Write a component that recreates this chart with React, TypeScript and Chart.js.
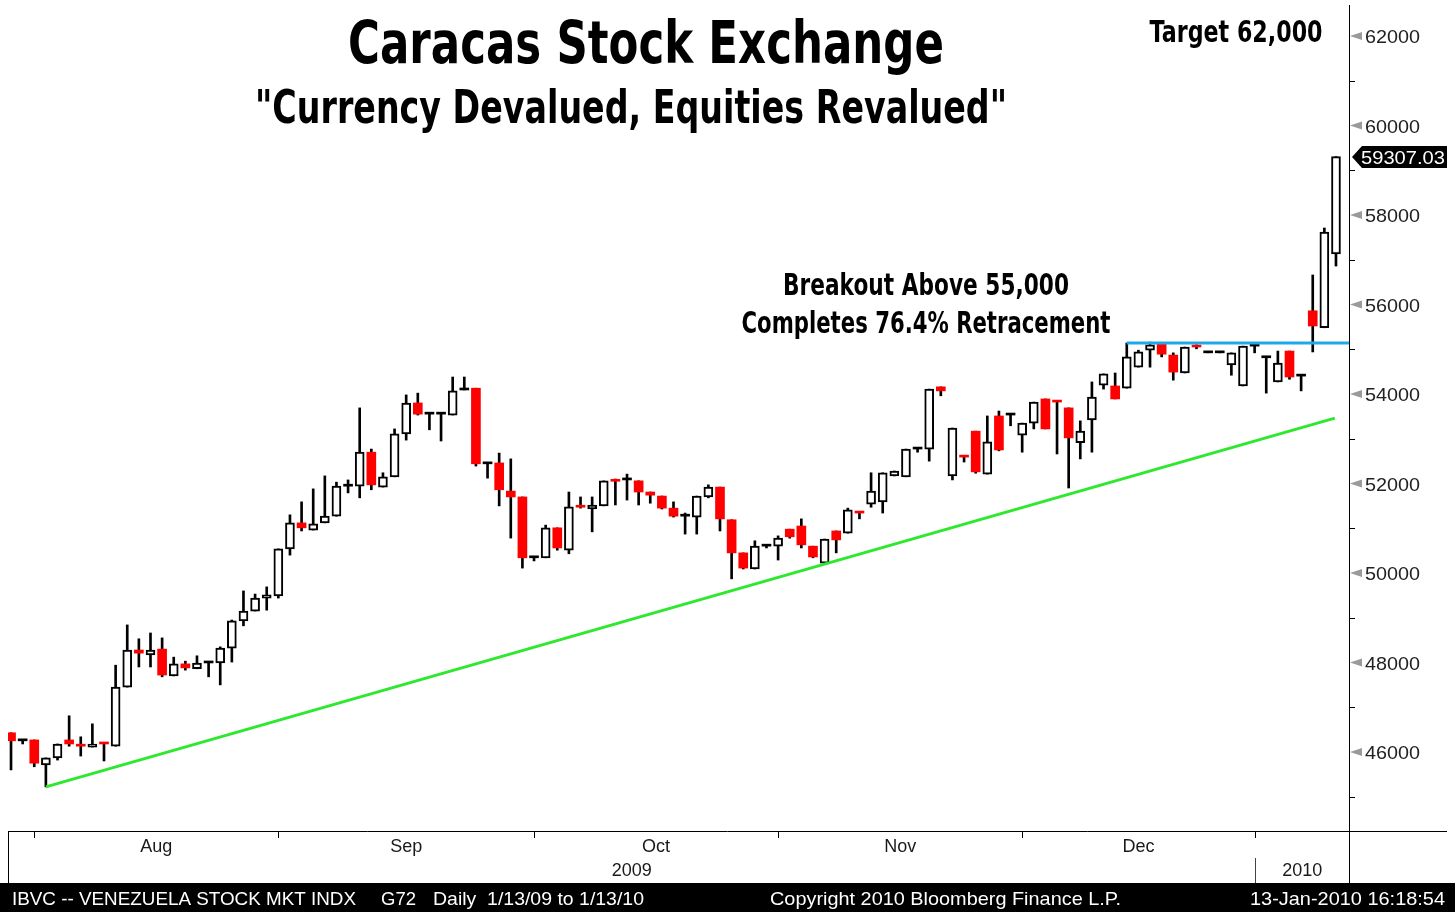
import React, { useEffect, useRef } from 'react';
import { Chart, registerables } from 'chart.js';

Chart.register(...registerables);

// ---- Data (IBVC daily OHLC, late Jul 2009 - 13 Jan 2010) ----
const opens = [
  46430, 46250, 46270, 45710, 45870, 46270, 46140, 46110, 46190, 46130,
  47450, 48280, 48170, 48300, 47700, 47970, 47860, 47990, 47990, 48320,
  48930, 49150, 49440, 49490, 50540, 51120, 50960, 51120, 51270, 51940,
  51940, 52700, 51920, 52150, 53110, 53800, 53550, 53550, 53530, 54090,
  54130, 52440, 52460, 51830, 51700, 50340, 50340, 51010, 50510, 51480,
  51430, 51500, 52060, 52080, 52060, 51810, 51720, 51450, 51270, 51250,
  51700, 51920, 51190, 50450, 50090, 50600, 50600, 50980, 51050, 50600,
  50220, 50940, 50890, 51350, 51540, 51590, 52170, 52150, 52770, 52770,
  54160, 52170, 52600, 53170, 52210, 53510, 53530, 53080, 53350, 53890,
  53830, 53690, 52910, 53420, 54200, 54180, 54130, 54600, 54980, 55140,
  54870, 54470, 55060, 54920, 54920, 54650, 54180, 55070, 54810, 54270,
  54960, 54400, 55860, 55480, 57130,
];
const highs = [
  46430, 46250, 46270, 45870, 46180, 46810, 46340, 46630, 46190, 47940,
  48840, 48530, 48660, 48550, 48120, 48030, 48150, 47990, 48350, 48950,
  49600, 49530, 49690, 50540, 51300, 51590, 51880, 52170, 52030, 52080,
  53690, 52770, 52240, 53220, 53980, 54020, 53550, 53580, 54380, 54380,
  54130, 52440, 52680, 52550, 51700, 50340, 51070, 51010, 51810, 51700,
  51700, 52060, 52100, 52210, 52060, 51810, 51720, 51590, 51340, 51720,
  51970, 51920, 51190, 50450, 50720, 50600, 50830, 50980, 51210, 50600,
  50760, 50940, 51450, 51350, 52240, 52240, 52280, 52770, 52770, 54110,
  54160, 53240, 52600, 53170, 53510, 53620, 53530, 53350, 53820, 53890,
  53830, 53690, 53400, 54270, 54450, 54470, 55140, 54980, 55160, 55140,
  54920, 55050, 55100, 54920, 54920, 54920, 55070, 55070, 54810, 54960,
  54960, 54400, 56660, 57710, 59307.03,
];
const lows = [
  45600, 46180, 45670, 45220, 45820, 46130, 45910, 46110, 45800, 46130,
  47450, 47900, 47900, 47680, 47700, 47830, 47860, 47680, 47500, 48010,
  48820, 49150, 49170, 49440, 50400, 50940, 50960, 51120, 51270, 51790,
  51680, 51860, 51920, 52150, 52970, 53530, 53200, 52950, 53530, 54090,
  52390, 52120, 51500, 50780, 50110, 50270, 50340, 50510, 50430, 51450,
  50920, 51500, 51520, 51630, 51520, 51560, 51430, 51250, 50870, 50870,
  51680, 50940, 49870, 50090, 50090, 50560, 50290, 50780, 50560, 50340,
  50220, 50450, 50890, 51210, 51470, 51340, 52170, 52150, 52700, 52500,
  53960, 52080, 52480, 52230, 52210, 52730, 53290, 52700, 53220, 53220,
  52660, 51900, 52550, 52700, 54110, 53890, 54130, 54600, 54600, 54830,
  54310, 54470, 55010, 54920, 54920, 54420, 54180, 54920, 54020, 54270,
  54330, 54070, 54940, 55480, 56860,
];
const closes = [
  46250, 46250, 45750, 45870, 46180, 46180, 46130, 46180, 46180, 47450,
  48280, 48210, 48280, 47720, 47970, 47880, 47990, 47990, 48320, 48930,
  49150, 49440, 49510, 50540, 51120, 51010, 51100, 51270, 51940, 51940,
  52700, 51970, 52150, 53110, 53800, 53550, 53550, 53550, 54070, 54090,
  52440, 52440, 51860, 51700, 50340, 50340, 51010, 50560, 51480, 51470,
  51520, 52060, 52050, 52080, 51810, 51740, 51450, 51270, 51270, 51720,
  51920, 51210, 50450, 50110, 50600, 50600, 50780, 50810, 50630, 50360,
  50760, 50740, 51410, 51340, 51830, 52240, 52280, 52770, 52770, 54110,
  54070, 53240, 52590, 52260, 52930, 52750, 53530, 53350, 53820, 53220,
  53820, 53020, 53170, 53930, 54450, 53890, 54830, 54940, 55100, 54890,
  54490, 55050, 55050, 54920, 54920, 54920, 55070, 55070, 54810, 54690,
  54380, 54400, 55520, 57620, 59307.03,
];

const monthNames = ['Aug', 'Sep', 'Oct', 'Nov', 'Dec'];
const monthStartBars = [2, 23, 45, 66, 87, 107]; // first bar of Aug, Sep, Oct, Nov, Dec, Jan
const yearNames = ['2009', '2010'];

const trendX = [3, 113.9];
const trendY = [45220, 53460];
const breakoutX = [96, 115.2];
const breakoutY = [55140, 55140];
const lastPrice = 59307.03;

const xMin = -0.26;
const xMax = 115.12;
const yMin = 44235;
const yMax = 62693;
const yMinorStep = 1000;
const yLabelStep = 2000;

const TITLE = 'Caracas Stock Exchange';
const SUBTITLE = '"Currency Devalued, Equities Revalued"';
const TARGET_NOTE = 'Target 62,000';
const NOTE_1 = 'Breakout Above 55,000';
const NOTE_2 = 'Completes 76.4% Retracement';
const FOOT_1 = 'IBVC -- VENEZUELA STOCK MKT INDX';
const FOOT_2 = 'G72';
const FOOT_3 = 'Daily  1/13/09 to 1/13/10';
const FOOT_4 = 'Copyright 2010 Bloomberg Finance L.P.';
const FOOT_5 = '13-Jan-2010 16:18:54';

function fitText(
  ctx: CanvasRenderingContext2D,
  text: string,
  x: number,
  baseline: number,
  width: number,
  font: string,
  color: string,
  align: 'left' | 'center' = 'center'
) {
  ctx.save();
  ctx.font = font;
  const w = ctx.measureText(text).width;
  const s = width / w;
  ctx.translate(x, baseline);
  ctx.scale(s, 1);
  ctx.textAlign = align;
  ctx.textBaseline = 'alphabetic';
  ctx.fillStyle = color;
  ctx.fillText(text, 0, 0);
  ctx.restore();
}

const decorPlugin = {
  id: 'decor',
  afterDraw(chart: any) {
    const ctx: CanvasRenderingContext2D = chart.ctx;
    const xs = chart.scales.x;
    const ys = chart.scales.y;
    const a = chart.chartArea;
    const W = chart.width;
    const H = chart.height;
    const panelBottom = a.bottom + 52;
    const px = (v: number) => xs.getPixelForValue(v);

    ctx.save();
    ctx.strokeStyle = '#000';
    ctx.lineWidth = 1;
    const line = (x1: number, y1: number, x2: number, y2: number) => {
      ctx.beginPath();
      ctx.moveTo(x1, y1);
      ctx.lineTo(x2, y2);
      ctx.stroke();
    };
    // right axis line and lower panel frame
    line(a.right + 0.5, a.top, a.right + 0.5, panelBottom);
    line(a.left, a.bottom + 0.5, W - 8, a.bottom + 0.5);
    line(a.left + 0.5, a.bottom, a.left + 0.5, panelBottom);

    // y axis ticks, markers and labels
    const labFont = '19px "Liberation Sans", Arial, sans-serif';
    for (let v = Math.ceil(ys.min / yMinorStep) * yMinorStep; v <= ys.max; v += yMinorStep) {
      const y = ys.getPixelForValue(v);
      if (v % yLabelStep === 0) {
        ctx.fillStyle = '#9a9a9a';
        ctx.beginPath();
        ctx.moveTo(a.right + 1, y);
        ctx.lineTo(a.right + 13, y - 4);
        ctx.lineTo(a.right + 13, y + 4);
        ctx.closePath();
        ctx.fill();
        fitText(ctx, String(v), a.right + 16, y + 7, 55, labFont, '#222', 'left');
      } else {
        const yy = Math.round(y) + 0.5;
        line(a.right, yy, a.right + 6, yy);
      }
    }

    // month ticks and labels
    ctx.strokeStyle = '#000';
    monthStartBars.forEach((b) => {
      const x = Math.round(px(b)) + 0.5;
      line(x, a.bottom, x, a.bottom + 7);
    });
    ctx.fillStyle = '#1a1a1a';
    ctx.font = '18px "Liberation Sans", Arial, sans-serif';
    ctx.textAlign = 'center';
    ctx.textBaseline = 'middle';
    monthNames.forEach((m, i) => {
      const cx = (px(monthStartBars[i]) + px(monthStartBars[i + 1])) / 2;
      ctx.fillText(m, cx, a.bottom + 16);
    });
    const janX = Math.round(px(monthStartBars[monthStartBars.length - 1])) + 0.5;
    ctx.fillText(yearNames[0], (a.left + janX) / 2, a.bottom + 40);
    ctx.fillText(yearNames[1], (janX + a.right) / 2, a.bottom + 40);
    ctx.strokeStyle = '#444';
    line(janX, a.bottom + 27, janX, panelBottom);

    // footer
    ctx.fillStyle = '#000';
    ctx.fillRect(0, panelBottom, W, H - panelBottom);
    const ff = '19px "Liberation Sans", Arial, sans-serif';
    const fb = panelBottom + 22;
    fitText(ctx, FOOT_1, 12, fb, 344, ff, '#fff', 'left');
    fitText(ctx, FOOT_2, 381, fb, 35, ff, '#fff', 'left');
    fitText(ctx, FOOT_3, 433, fb, 211, ff, '#fff', 'left');
    fitText(ctx, FOOT_4, 770, fb, 351, ff, '#fff', 'left');
    fitText(ctx, FOOT_5, 1250, fb, 195, ff, '#fff', 'left');

    // last price tag
    const ty = Math.round(ys.getPixelForValue(lastPrice));
    ctx.fillStyle = '#000';
    ctx.beginPath();
    ctx.moveTo(a.right + 3, ty);
    ctx.lineTo(a.right + 13, ty - 11);
    ctx.lineTo(W - 8, ty - 11);
    ctx.lineTo(W - 8, ty + 11);
    ctx.lineTo(a.right + 13, ty + 11);
    ctx.closePath();
    ctx.fill();
    fitText(ctx, lastPrice.toFixed(2), a.right + 12, ty + 7, 84, labFont, '#fff', 'left');

    // titles and notes
    const bold = (s: number) => `bold ${s}px "DejaVu Sans", sans-serif`;
    fitText(ctx, TITLE, 646, 63, 596, bold(59), '#000');
    fitText(ctx, SUBTITLE, 631, 123, 752, bold(46), '#000');
    fitText(ctx, TARGET_NOTE, 1236, 42, 173, bold(30), '#000');
    fitText(ctx, NOTE_1, 926, 295, 286, bold(31), '#000');
    fitText(ctx, NOTE_2, 926, 333, 369, bold(31), '#000');
    ctx.restore();
  },
};

export default function App() {
  const canvasRef = useRef<HTMLCanvasElement | null>(null);

  useEffect(() => {
    const canvas = canvasRef.current;
    if (!canvas) return;

    const kind = (i: number) =>
      closes[i] > opens[i] ? 'up' : closes[i] < opens[i] ? 'down' : 'flat';

    const chart = new Chart(canvas, {
      type: 'bar',
      data: {
        datasets: [
          {
            type: 'line',
            data: trendX.map((x, i) => ({ x, y: trendY[i] })),
            borderColor: '#2ee82e',
            borderWidth: 3,
            pointRadius: 0,
            fill: false,
          } as any,
          {
            type: 'line',
            data: breakoutX.map((x, i) => ({ x, y: breakoutY[i] })),
            borderColor: '#1ea9ec',
            borderWidth: 3,
            pointRadius: 0,
            fill: false,
          } as any,
          {
            type: 'bar',
            data: opens.map((o, i) => ({ x: i, y: [o, closes[i]] })),
            backgroundColor: (c: any) => {
              const k = kind(c.dataIndex);
              return k === 'up' ? '#ffffff' : k === 'down' ? '#ff0000' : '#000000';
            },
            borderColor: (c: any) => {
              const k = kind(c.dataIndex);
              return k === 'down' ? '#ff0000' : '#000000';
            },
            borderWidth: (c: any) => (kind(c.dataIndex) === 'up' ? 2 : 0),
            borderSkipped: false,
            barThickness: 9,
            minBarLength: 2,
            grouped: false,
          } as any,
          {
            type: 'bar',
            data: lows.map((l, i) => ({ x: i, y: [l, highs[i]] })),
            backgroundColor: '#000000',
            borderWidth: 0,
            barThickness: 2,
            grouped: false,
          } as any,
        ],
      },
      options: {
        animation: false,
        responsive: false,
        events: [],
        layout: { padding: { left: 8, right: 8, top: 5, bottom: 81 } },
        plugins: {
          legend: { display: false },
          tooltip: { enabled: false },
          title: { display: false },
        },
        scales: {
          x: {
            type: 'linear',
            min: xMin,
            max: xMax,
            offset: false,
            display: false,
          },
          y: {
            type: 'linear',
            position: 'right',
            min: yMin,
            max: yMax,
            afterFit: (scale: any) => {
              scale.width = 98;
            },
            border: { display: false },
            grid: { display: false },
            ticks: { display: false },
          },
        },
      } as any,
      plugins: [decorPlugin],
    });

    return () => {
      chart.destroy();
    };
  }, []);

  return (
    <div style={{ position: 'absolute', left: 0, top: 0, width: 1455, height: 912, background: '#fff' }}>
      <canvas ref={canvasRef} width={1455} height={912} style={{ display: 'block', width: 1455, height: 912 }} />
    </div>
  );
}
